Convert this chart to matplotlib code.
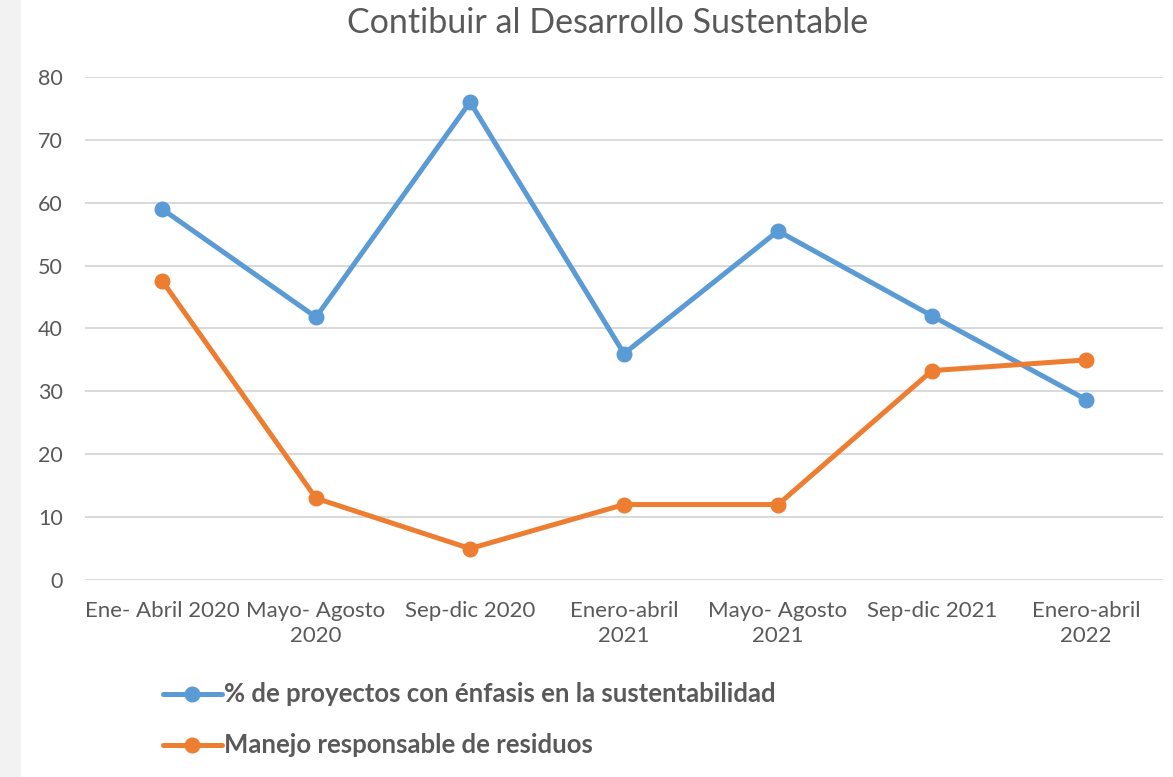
import matplotlib.pyplot as plt
from matplotlib.lines import Line2D
from matplotlib.patches import Rectangle

# data
periodos = ["Ene- Abril 2020", "Mayo- Agosto\n2020", "Sep-dic 2020", "Enero-abril\n2021",
            "Mayo- Agosto\n2021", "Sep-dic 2021", "Enero-abril\n2022"]
sustentabilidad = [59.0, 41.8, 76.0, 36.0, 55.5, 42.0, 28.7]
residuos = [47.6, 13.0, 5.0, 12.0, 12.0, 33.3, 35.0]
yticks = [0, 10, 20, 30, 40, 50, 60, 70, 80]

azul = "#5b9bd5"
naranja = "#ed7d31"
gris = "#595959"

plt.rcParams['font.family'] = ['Lato', 'DejaVu Sans']

fig = plt.figure(figsize=(11.73, 7.77), dpi=100)
fig.patches.append(Rectangle((0, 0), 0.018, 1, transform=fig.transFigure,
                             facecolor="#f2f2f2", edgecolor="none", zorder=0))
ax = fig.add_axes([0.0725, 0.2535, 0.919, 0.6475])

x = [i + 0.5 for i in range(len(periodos))]
ax.plot(x, sustentabilidad, color=azul, lw=3.6, marker="o", ms=10.5, zorder=3,
        solid_capstyle="round")
ax.plot(x, residuos, color=naranja, lw=3.6, marker="o", ms=10.5, zorder=3,
        solid_capstyle="round")

ax.set_xlim(0, len(periodos))
ax.set_ylim(0, 80)
ax.set_yticks(yticks)
ax.set_xticks(x)
ax.set_xticklabels(periodos, fontsize=16, color=gris, linespacing=1.32)
ax.tick_params(axis="y", labelsize=15.5, labelcolor=gris, length=0, pad=16)
ax.tick_params(axis="x", length=0, pad=15)
ax.grid(axis="y", color="#d9d9d9", lw=1.4)
ax.set_axisbelow(True)
for s in ax.spines.values():
    s.set_visible(False)

fig.text(0.518, 0.971, "Contibuir al Desarrollo Sustentable", fontsize=24.5,
         color=gris, ha="center", va="center")

# legend drawn by hand, one entry per row
for nombre, color, yf in [("% de proyectos con énfasis en la sustentabilidad", azul, 1 - 694 / 777),
                          ("Manejo responsable de residuos", naranja, 1 - 745 / 777)]:
    fig.add_artist(Line2D([0.139, 0.189], [yf, yf], transform=fig.transFigure,
                          color=color, lw=3.6, solid_capstyle="round"))
    fig.add_artist(Line2D([0.164], [yf], transform=fig.transFigure,
                          color=color, marker="o", ms=10.5, lw=0))
    fig.text(0.191, yf, nombre, fontsize=18.5, fontweight="bold", color=gris,
             ha="left", va="center")

fig.savefig("out.png", dpi=100)
